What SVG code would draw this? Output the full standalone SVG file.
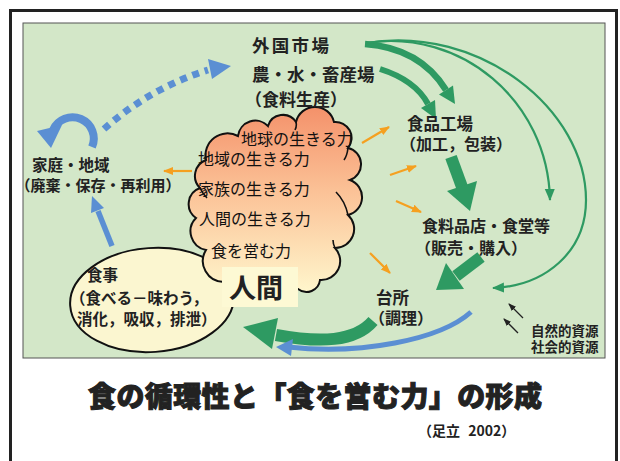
<svg xmlns="http://www.w3.org/2000/svg" width="620" height="461" viewBox="0 0 620 461">
<style>
text{font-family:"Noto Sans CJK JP","Noto Sans",sans-serif;fill:#222}
.b{font-weight:bold}
.c{font-size:16px;font-weight:normal;fill:#111}
.og{stroke:#f5a020;stroke-width:2.2;fill:none}
.tg{stroke:#2e9a62;stroke-width:2.2;fill:none}
.gb{stroke:#2e9a62;fill:none}
.gh{fill:#2e9a62}
.bl{stroke:#5b8fd3;fill:none}
.bh{fill:#5b8fd3}
.bk{stroke:#222;stroke-width:1.3;fill:none}
</style>
<defs>
<linearGradient id="cg" x1="0" y1="0" x2="0" y2="1">
<stop offset="0" stop-color="#f4916a"/>
<stop offset="0.45" stop-color="#fbc196"/>
<stop offset="1" stop-color="#fff6cc"/>
</linearGradient>
<marker id="mo" markerUnits="userSpaceOnUse" markerWidth="12" markerHeight="10" refX="9" refY="4" orient="auto">
<path d="M0,0 L10,4 L0,8 Z" fill="#f5a020"/>
</marker>
<marker id="mg" markerUnits="userSpaceOnUse" markerWidth="14" markerHeight="12" refX="11" refY="5" orient="auto">
<path d="M0,0 L12,5 L0,10 Z" fill="#2e9a62"/>
</marker>
<marker id="mk" markerUnits="userSpaceOnUse" markerWidth="10" markerHeight="8" refX="7" refY="3" orient="auto">
<path d="M0,0 L8,3 L0,6 Z" fill="#222"/>
</marker>
</defs>

<rect width="620" height="461" fill="#fff"/>
<path d="M10.5,461 V10.5 H616.5 V461" fill="none" stroke="#222" stroke-width="3"/>
<rect x="23" y="23" width="582" height="335" fill="#d3e7c8" stroke="#555" stroke-width="1"/>

<g id="connectors">
<!-- orange -->
<line class="og" x1="192" y1="171" x2="164" y2="171" marker-end="url(#mo)"/>
<line class="og" x1="362" y1="143" x2="389" y2="127" marker-end="url(#mo)"/>
<line class="og" x1="390" y1="175" x2="416" y2="166" marker-end="url(#mo)"/>
<line class="og" x1="396" y1="201" x2="421" y2="212" marker-end="url(#mo)"/>
<line class="og" x1="370" y1="253" x2="390" y2="273" marker-end="url(#mo)"/>
<!-- thick green -->
<path class="gb" d="M365,44 Q420,48 446,90" stroke-width="6.5"/>
<polygon class="gh" points="439,94.5 453,85.5 455,104"/>
<path class="gb" d="M380,69 Q415,80 428,104" stroke-width="6"/>
<polygon class="gh" points="421,108 435,100 436,119"/>
<path class="gb" d="M451,157 L462,187" stroke-width="12"/>
<polygon class="gh" points="447,191 477,181 470,211"/>
<path class="gb" d="M481,257 L456,276" stroke-width="12"/>
<polygon class="gh" points="446,263 464,289 436,290"/>
<path class="gb" d="M373,321 C355,342 320,343 276,335" stroke-width="12"/>
<polygon class="gh" points="278,318 272,349 243,327"/>
<!-- thin green -->
<path class="tg" d="M366,43 C460,28 548,100 550,200" marker-end="url(#mg)"/>
<path class="tg" d="M366,43 C480,24 586,110 586,200 C586,252 545,286 493,288" marker-end="url(#mg)"/>
<!-- blue -->
<path class="bl" d="M471,312 C440,340 360,355 288,347" stroke-width="5"/>
<polygon class="bh" points="276,347 293,339 291,356"/>
<path class="bl" d="M112,246 L98,211" stroke-width="5.5"/>
<polygon class="bh" points="104,208 91,213 92,196"/>
<path class="bl" d="M92,147 A21,21 0 0 0 53,130" stroke-width="8"/>
<polygon class="bh" points="37,131 62,125 51,148"/>
<path class="bl" d="M104,129 Q150,88 208,70" stroke-width="7" stroke-dasharray="7 6"/>
<polygon class="bh" points="208,59 212,79 231,66"/>
<!-- black -->
<line class="bk" x1="523" y1="318" x2="509" y2="304" marker-end="url(#mk)"/>
<line class="bk" x1="518" y1="333" x2="504" y2="319" marker-end="url(#mk)"/>
</g>

<g id="meal">
<ellipse cx="152" cy="300" rx="82" ry="52" fill="#fbf6d0" stroke="#111" stroke-width="2" transform="rotate(-4 152 300)"/>
<text class="b" x="87" y="281" font-size="15.5">食事</text>
<text class="b" x="70" y="304" font-size="15.5">（食べる－味わう，</text>
<text class="b" x="77" y="325" font-size="15.5">消化，吸収，排泄）</text>
</g>

<g id="human">
<path d="M224,282 A21,21 0 0 1 206,250 A19,19 0 0 1 196,218 A17,17 0 0 1 200,188 A17,17 0 0 1 206,160 A22,22 0 0 1 238,136 A17.5,17.5 0 0 1 268,126 A15.6,15.6 0 0 1 296,122 A19.5,19.5 0 0 1 334,122 A16,16 0 0 1 348,148 A16.7,16.7 0 0 1 350,180 A18.3,18.3 0 0 1 348,215 A19,19 0 0 1 335,248 A19,19 0 0 1 320,280 A13.6,13.6 0 0 1 298,289 Z" fill="url(#cg)" stroke="#111" stroke-width="2"/>
<path d="M296,122 q1,4 -1,8 M348,215 q-3,-14 -12,-23 M335,248 q-2,-4 -2,-8 M200,188 q3,6 7,10 M348,148 q-1,8 -4,12" fill="none" stroke="#111" stroke-width="1.6"/>
<rect x="222" y="267" width="76" height="40" fill="#fdf9d4"/>
<text class="c" x="241" y="145">地球の生きる力</text>
<text class="c" x="198" y="165">地域の生きる力</text>
<text class="c" x="198" y="195">家族の生きる力</text>
<text class="c" x="199" y="225">人間の生きる力</text>
<text class="c" x="211" y="257">食を営む力</text>
<text class="b" x="229" y="298" font-size="27">人間</text>
</g>

<g id="market">
<text class="b" x="252" y="52" font-size="17.5" letter-spacing="2.3">外国市場</text>
<text class="b" x="252" y="81" font-size="17.5">農・水・畜産場</text>
<text class="b" x="245" y="106" font-size="17">（食料生産）</text>
</g>

<g id="factory">
<text class="b" x="407" y="129.5" font-size="16.5">食品工場</text>
<text class="b" x="400" y="150" font-size="16">（加工，包装）</text>
</g>

<g id="store">
<text class="b" x="422" y="232" font-size="16">食料品店・食堂等</text>
<text class="b" x="415" y="254" font-size="16">（販売・購入）</text>
</g>

<g id="kitchen">
<text class="b" x="376" y="304" font-size="16.5">台所</text>
<text class="b" x="369" y="324" font-size="16">（調理）</text>
</g>

<g id="home">
<text class="b" x="32" y="171" font-size="15.5">家庭・地域</text>
<text class="b" x="15.5" y="190.5" font-size="15">（廃棄・保存・再利用）</text>
</g>

<g id="resources">
<text class="b" x="531" y="336" font-size="13.5">自然的資源</text>
<text class="b" x="531" y="352" font-size="13.5">社会的資源</text>
</g>

<g id="title">
<text x="88" y="407" font-size="28" font-weight="900" stroke="#222" stroke-width="1" letter-spacing="0.4">食の循環性と「食を営む力」の形成</text>
<text class="b" x="418" y="436" font-size="14">（足立 <tspan dx="5">2002）</tspan></text>
</g>
</svg>
